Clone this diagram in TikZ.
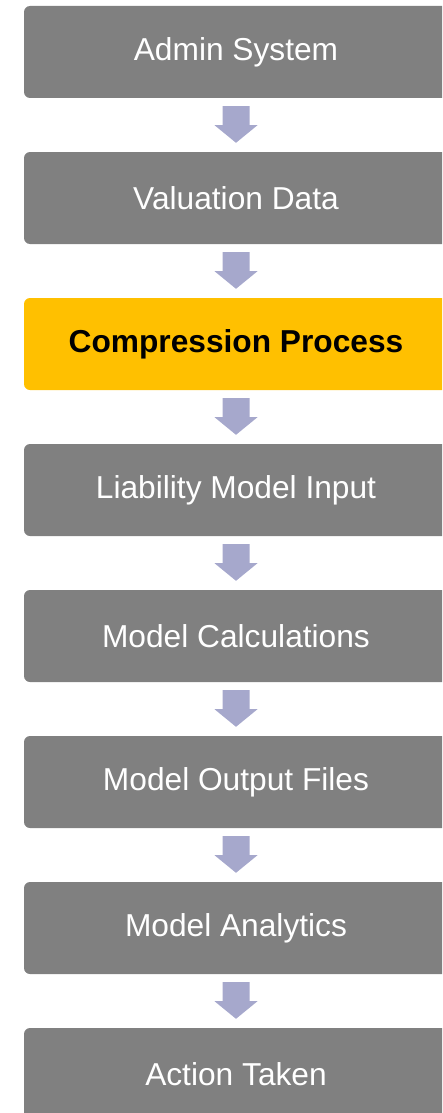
\documentclass[tikz,border=0pt]{standalone}
\usepackage{fontspec}
\setmainfont{Liberation Sans}
\usetikzlibrary{calc}
\definecolor{boxgray}{HTML}{808080}
\definecolor{boxyellow}{HTML}{FFC000}
\definecolor{arrowblue}{HTML}{A6A8CC}
\tikzset{
  stepbox/.style={rectangle, rounded corners=6pt, minimum width=424pt, minimum height=92pt,
    fill=boxgray, text=white, inner sep=0pt, font=\fontsize{31.7}{38}\selectfont},
  hlbox/.style={stepbox, fill=boxyellow, text=black, font=\fontsize{31.7}{38}\selectfont\bfseries},
  blockarrow/.style={fill=arrowblue, draw=none}
}
\newcommand{\blockarr}[2]{%
  \fill[blockarrow] ($(#1.south)+(-13.5pt,-8pt)$) -- ($(#1.south)+(13.5pt,-8pt)$)
    -- ($(#1.south)+(13.5pt,-27pt)$) -- ($(#1.south)+(21.5pt,-27pt)$)
    -- ($(#2.north)+(0pt,9pt)$)
    -- ($(#1.south)+(-21.5pt,-27pt)$) -- ($(#1.south)+(-13.5pt,-27pt)$) -- cycle;}
\begin{document}
\begin{tikzpicture}
\useasboundingbox (0,0) rectangle (442pt,-1113pt);
\clip (0,0) rectangle (442pt,-1113pt);
\node[stepbox] (b1) at (236pt,-52pt) {Admin System};
\node[stepbox] (b2) at (236pt,-198pt) {Valuation Data};
\node[hlbox]   (b3) at (236pt,-344pt) {Compression Process};
\node[stepbox] (b4) at (236pt,-490pt) {Liability Model Input};
\node[stepbox] (b5) at (236pt,-636pt) {Model Calculations};
\node[stepbox] (b6) at (236pt,-782pt) {Model Output Files};
\node[stepbox] (b7) at (236pt,-928pt) {Model Analytics};
\node[stepbox] (b8) at (236pt,-1074pt) {Action Taken};
\blockarr{b1}{b2}
\blockarr{b2}{b3}
\blockarr{b3}{b4}
\blockarr{b4}{b5}
\blockarr{b5}{b6}
\blockarr{b6}{b7}
\blockarr{b7}{b8}
\end{tikzpicture}
\end{document}
